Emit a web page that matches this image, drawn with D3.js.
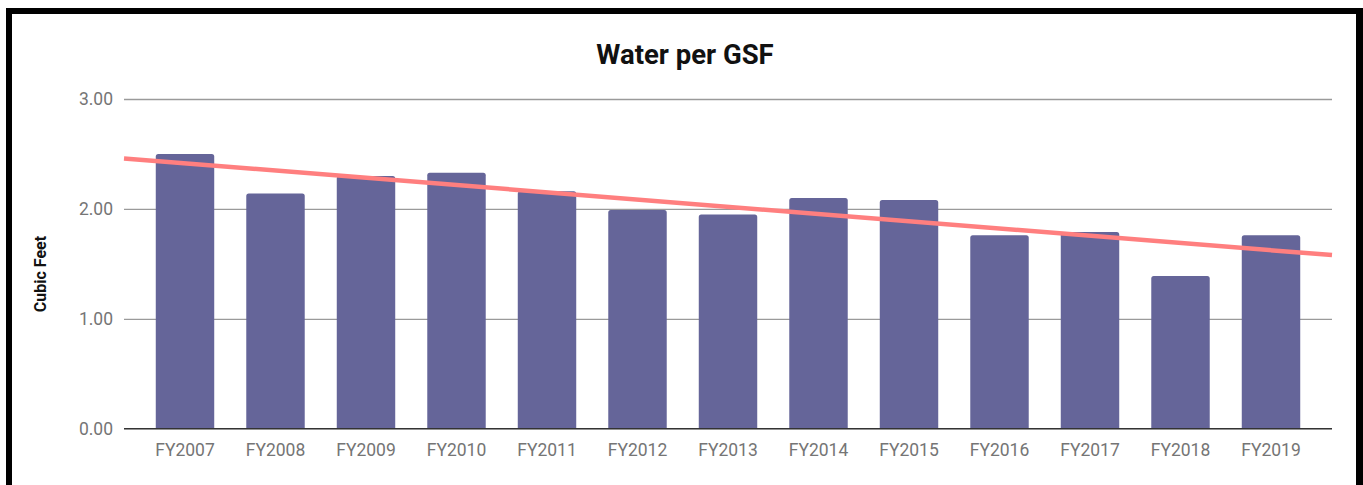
<!DOCTYPE html>
<html>
<head>
<meta charset="utf-8">
<script src="https://cdn.jsdelivr.net/npm/d3@7"></script>
<style>
  body { margin: 0; background: #fff; }
  text { font-family: Roboto, "Noto Sans", sans-serif; }
</style>
</head>
<body>
<div id="chart"></div>
<script>
// data
var years = ["FY2007", "FY2008", "FY2009", "FY2010", "FY2011", "FY2012", "FY2013",
             "FY2014", "FY2015", "FY2016", "FY2017", "FY2018", "FY2019"];
var water = [2.50, 2.14, 2.30, 2.33, 2.16, 1.99, 1.95, 2.10, 2.08, 1.76, 1.79, 1.39, 1.76];
var yTicks = [0, 1, 2, 3];

var width = 1363, height = 485;
var margin = {top: 99, right: 31, bottom: 56, left: 124};

var svg = d3.select("#chart").append("svg")
  .attr("width", width)
  .attr("height", height);

// black frame (bottom edge is cut off in the picture)
svg.append("rect").attr("x", 6).attr("y", 8).attr("width", 1357).attr("height", 490).attr("fill", "#000");
svg.append("rect").attr("x", 12).attr("y", 14).attr("width", 1344).attr("height", 480).attr("fill", "#fff");

var x = d3.scaleBand()
  .domain(years)
  .range([margin.left, width - margin.right])
  .paddingInner(0.354)
  .paddingOuter(0.351);

var y = d3.scaleLinear()
  .domain([0, 3])
  .range([height - margin.bottom - 0.3, margin.top]);

// gridlines + y labels
var yAxis = d3.axisLeft(y)
  .tickValues(yTicks)
  .tickSize(-(width - margin.left - margin.right))
  .tickPadding(11)
  .tickFormat(d3.format(".2f"));

var gy = svg.append("g")
  .attr("transform", "translate(" + margin.left + ",0)")
  .call(yAxis);
gy.select(".domain").remove();
gy.selectAll(".tick line").attr("stroke", "#9a9a9a").attr("stroke-width", 1.3);
gy.selectAll(".tick text").attr("fill", "#757575").style("font-size", "17.5px");

// bars with slightly rounded tops
function barPath(d, i) {
  var x0 = x(years[i]), w = x.bandwidth(), y0 = y(0), y1 = y(d), r = 2.5;
  return "M" + x0 + "," + y0 +
    "V" + (y1 + r) + "Q" + x0 + "," + y1 + " " + (x0 + r) + "," + y1 +
    "H" + (x0 + w - r) + "Q" + (x0 + w) + "," + y1 + " " + (x0 + w) + "," + (y1 + r) +
    "V" + y0 + "Z";
}
svg.append("g").selectAll("path")
  .data(water)
  .enter().append("path")
  .attr("d", barPath)
  .attr("fill", "#656599");

// baseline
svg.append("line")
  .attr("x1", margin.left).attr("x2", width - margin.right)
  .attr("y1", y(0)).attr("y2", y(0))
  .attr("stroke", "#333").attr("stroke-width", 1.3);

// x labels
var xAxis = d3.axisBottom(x).tickSize(0).tickPadding(15);
var gx = svg.append("g")
  .attr("transform", "translate(0," + y(0) + ")")
  .call(xAxis);
gx.select(".domain").remove();
gx.selectAll(".tick text").attr("fill", "#757575").style("font-size", "17.5px");

// linear trendline (least squares over bar index)
var n = water.length;
var xm = d3.mean(d3.range(n)), ym = d3.mean(water);
var sxy = d3.sum(water, function(v, i) { return (i - xm) * (v - ym); });
var sxx = d3.sum(d3.range(n), function(i) { return (i - xm) * (i - xm); });
var slope = sxy / sxx, icpt = ym - slope * xm;
var step = x.step();
var cx0 = x(years[0]) + x.bandwidth() / 2;
function trendAt(px) {
  var idx = (px - cx0) / step;
  return icpt + slope * idx;
}
var tx = [margin.left, width - margin.right];
svg.append("line")
  .attr("x1", tx[0]).attr("x2", tx[1])
  .attr("y1", y(trendAt(tx[0]))).attr("y2", y(trendAt(tx[1])))
  .attr("stroke", "#ff7f7f")
  .attr("stroke-width", 4.5);

// title
svg.append("text")
  .attr("x", 685).attr("y", 64)
  .attr("text-anchor", "middle")
  .style("font-size", "27.5px").style("font-weight", "bold")
  .attr("fill", "#111")
  .text("Water per GSF");

// y axis title
svg.append("text")
  .attr("transform", "translate(46,274) rotate(-90)")
  .attr("text-anchor", "middle")
  .style("font-size", "16px").style("font-weight", "bold")
  .attr("fill", "#111")
  .text("Cubic Feet");
</script>
</body>
</html>
